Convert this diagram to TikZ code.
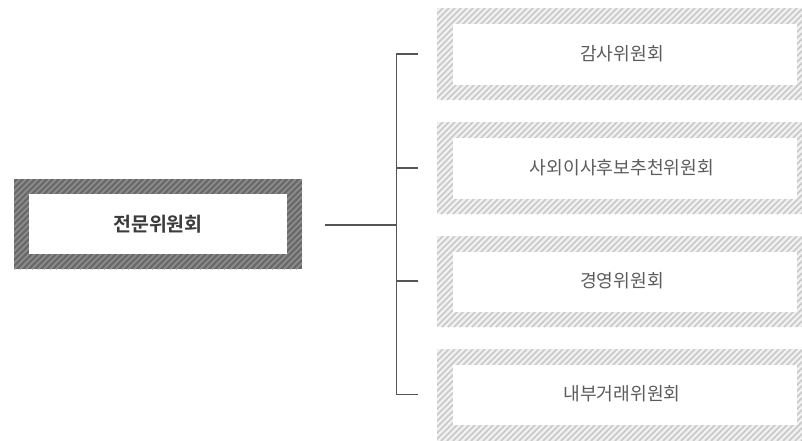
\documentclass[tikz,border=0pt]{standalone}
\usepackage{fontspec}
\newfontfamily\kr[BoldFont={Noto Sans CJK KR Bold}]{Noto Sans CJK KR}
\definecolor{darkbase}{HTML}{696969}
\definecolor{darkstripe}{HTML}{8F8F8F}
\definecolor{lightbase}{HTML}{F1F1F1}
\definecolor{lightstripe}{HTML}{C9C9C9}
\definecolor{linec}{HTML}{555555}
\definecolor{maintext}{HTML}{3C3C3C}
\definecolor{subtext}{HTML}{5C5C5C}
% #1 name, #2 x1, #3 y1, #4 x2, #5 y2, #6 base, #7 stripe
\newcommand\hatchframe[7]{%
  \begin{scope}
    \clip (#2,#3) rectangle (#4,#5);
    \fill[#6] (#2,#3) rectangle (#4,#5);
    \pgfmathtruncatemacro\hh{#5-#3}
    \pgfmathtruncatemacro\xs{#2-#5+#3}
    \pgfmathtruncatemacro\xn{\xs+6}
    \foreach \xx in {\xs,\xn,...,#4}
      \draw[#7, line width=1.7pt] (\xx,#5) -- ++(\hh,-\hh);
  \end{scope}
  \path (#2,#3) rectangle (#4,#5);
  \node[inner sep=0pt, outer sep=0pt, minimum width={(#4-#2)*1pt}, minimum height={(#5-#3)*1pt}]
    (#1) at ({(#2+#4)/2},{(#3+#5)/2}) {};
}
\begin{document}
\begin{tikzpicture}[x=1pt, y=-1pt,
  conn/.style={draw=linec, line width=1.2pt},
  innerwhite/.style={fill=white},
  maintxt/.style={font=\kr\bfseries\fontsize{19.5}{23}\selectfont, text=maintext, inner sep=0pt},
  subtxt/.style={font=\kr\fontsize{18.2}{22}\selectfont, text=subtext, inner sep=0pt}]
  \useasboundingbox (0,0) rectangle (802,440);
  \fill[white] (0,0) rectangle (802,440);
  % main box
  \hatchframe{mainframe}{14}{179}{302}{269}{darkbase}{darkstripe}
  \fill[innerwhite] (29,194) rectangle (287,254);
  \node[maintxt] (main) at (158,224) {전문위원회};
  % right boxes
  \hatchframe{f1}{437}{8}{808}{100}{lightbase}{lightstripe}
  \fill[innerwhite] (453,24) rectangle (797,85);
  \node[subtxt] (s1) at (622,54) {감사위원회};
  \hatchframe{f2}{437}{122}{808}{214}{lightbase}{lightstripe}
  \fill[innerwhite] (453,138) rectangle (797,199);
  \node[subtxt] (s2) at (622,168) {사외이사후보추천위원회};
  \hatchframe{f3}{437}{236}{808}{327}{lightbase}{lightstripe}
  \fill[innerwhite] (453,252) rectangle (797,312);
  \node[subtxt] (s3) at (622,281) {경영위원회};
  \hatchframe{f4}{437}{349}{808}{441}{lightbase}{lightstripe}
  \fill[innerwhite] (453,365) rectangle (797,425);
  \node[subtxt] (s4) at (622,394) {내부거래위원회};
  % connectors
  \coordinate (mainout) at (325,225);
  \coordinate (hub) at (396.5,225);
  \coordinate (t1) at (418,54);
  \coordinate (t2) at (418,168);
  \coordinate (t3) at (418,281);
  \coordinate (t4) at (418,394.5);
  \draw[conn] (mainout) -- (hub);
  \draw[conn] (t1) -| (hub) |- (t4);
  \draw[conn] (t2) -- (t2 -| hub);
  \draw[conn] (t3) -- (t3 -| hub);
\end{tikzpicture}
\end{document}
